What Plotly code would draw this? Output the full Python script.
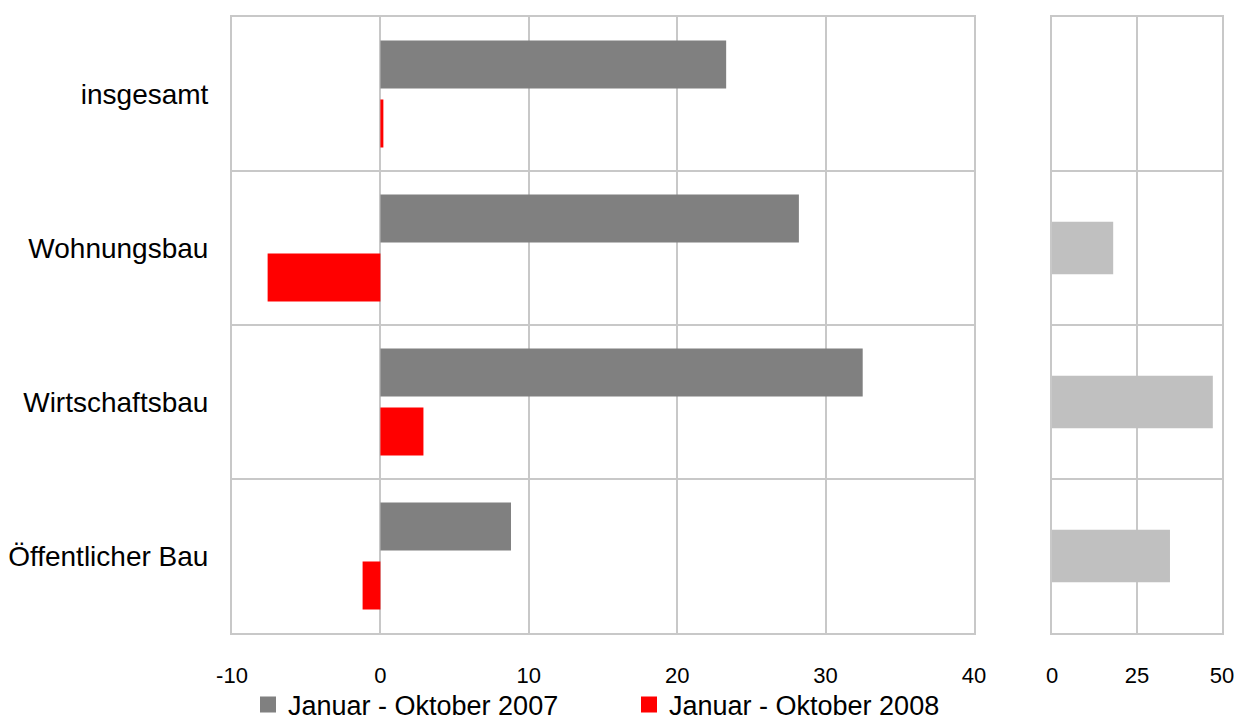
import plotly.graph_objects as go

# Categories (top to bottom)
categories = ["insgesamt", "Wohnungsbau", "Wirtschaftsbau", "Öffentlicher Bau"]

# Change in % for the two periods
values_2007 = [23.3, 28.2, 32.5, 8.8]
values_2008 = [0.2, -7.6, 2.9, -1.2]

# Values shown in the narrow right-hand panel
side_values = [None, 18.0, 47.3, 34.7]

series_names = ["Januar - Oktober 2007", "Januar - Oktober 2008"]
main_ticks = [-10, 0, 10, 20, 30, 40]
side_ticks = [0, 25, 50]

GRID = "#C8C8C8"
FONT = "Liberation Sans, Arial, sans-serif"

fig = go.Figure()

fig.add_trace(go.Bar(
    y=categories, x=values_2007, orientation="h", name=series_names[0],
    marker=dict(color="#808080", line=dict(width=0)), showlegend=False,
    xaxis="x", yaxis="y",
))
fig.add_trace(go.Bar(
    y=categories, x=values_2008, orientation="h", name=series_names[1],
    marker=dict(color="#FF0000", line=dict(width=0)), showlegend=False,
    xaxis="x", yaxis="y",
))
fig.add_trace(go.Bar(
    y=categories, x=side_values, orientation="h", name="side",
    marker=dict(color="#C0C0C0", line=dict(width=0)), showlegend=False,
    width=0.34, xaxis="x2", yaxis="y2",
))

# Legend entries drawn as large square markers
for name, color in zip(series_names, ["#808080", "#FF0000"]):
    fig.add_trace(go.Scatter(
        x=[None], y=[None], mode="markers", name=name,
        marker=dict(symbol="square", size=20, color=color),
        xaxis="x", yaxis="y",
    ))

fig.update_layout(
    width=1251, height=722,
    margin=dict(l=0, r=0, t=0, b=0, autoexpand=False),
    paper_bgcolor="white", plot_bgcolor="white",
    font=dict(family=FONT, size=22, color="black"),
    barmode="group", bargap=0.234, bargroupgap=0.186,
    xaxis=dict(
        domain=[232 / 1251, 974 / 1251], range=[-10, 40],
        tickvals=main_ticks, ticktext=[str(v) for v in main_ticks],
        showgrid=True, gridcolor=GRID, gridwidth=2,
        showline=True, linecolor=GRID, linewidth=2, mirror=True,
        zeroline=False, ticks="", ticklabelstandoff=22,
        tickfont=dict(size=22), anchor="y", fixedrange=True,
        automargin=False,
    ),
    yaxis=dict(
        domain=[1 - 633 / 722, 1 - 17 / 722],
        type="category", categoryorder="array", categoryarray=categories,
        autorange="reversed", tickson="boundaries",
        showgrid=True, gridcolor=GRID, gridwidth=2,
        showline=True, linecolor=GRID, linewidth=2, mirror=True,
        ticks="", ticklabelstandoff=16, tickfont=dict(size=28),
        anchor="x", fixedrange=True, automargin=False,
    ),
    xaxis2=dict(
        domain=[1052 / 1251, 1222 / 1251], range=[0, 50],
        tickvals=side_ticks, ticktext=[str(v) for v in side_ticks],
        showgrid=True, gridcolor=GRID, gridwidth=2,
        showline=True, linecolor=GRID, linewidth=2, mirror=True,
        zeroline=False, ticks="", ticklabelstandoff=22,
        tickfont=dict(size=22), anchor="y2", fixedrange=True,
        automargin=False,
    ),
    yaxis2=dict(
        domain=[1 - 633 / 722, 1 - 17 / 722],
        type="category", categoryorder="array", categoryarray=categories,
        autorange="reversed", tickson="boundaries",
        showgrid=True, gridcolor=GRID, gridwidth=2,
        showline=True, linecolor=GRID, linewidth=2, mirror=True,
        ticks="", showticklabels=False, anchor="x2", fixedrange=True,
        automargin=False,
    ),
    legend=dict(
        orientation="h", x=248 / 1251, xanchor="left",
        y=1 - 705 / 722, yanchor="middle",
        entrywidth=336, entrywidthmode="pixels", font=dict(size=27),
        itemwidth=30, bgcolor="rgba(0,0,0,0)", tracegroupgap=0,
    ),
)

fig.write_html("out.html")
